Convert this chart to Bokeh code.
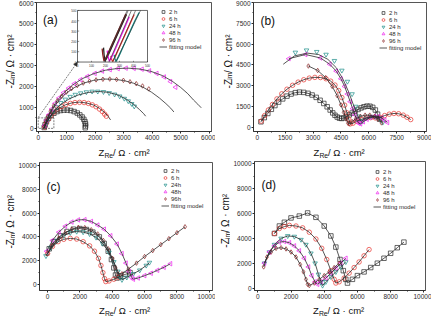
from math import pi
from bokeh.plotting import figure
from bokeh.layouts import row, column
from bokeh.models import Range1d, Label, Legend, LegendItem, Arrow, NormalHead, FixedTicker
from bokeh.core.properties import value
from bokeh.embed import file_html
from bokeh.resources import INLINE

FONT = "Liberation Sans"
INK = "#2b2b2b"

LABELS_ABD = ["2 h", "6 h", "24 h", "48 h", "96 h"]
LABELS_C = ["2 h", "6 h", "24h", "48h", "96h"]
COLORS = ["#262626", "#e8322c", "#1a8c88", "#ee1cee", "#8a1f1f"]
MARKERS = ["square", "circle", "inverted_triangle", "triangle", "diamond"]
MARKER_ANGLES = [0, 0, 0, pi / 2, 0]

# ---------------- panel (a) ----------------
A_2H_X = [210, 240, 290, 360, 450, 550, 660, 780, 900, 1020, 1140, 1260, 1370, 1460, 1540, 1600, 1640, 1660, 1660, 1650]
A_2H_Y = [40, 170, 330, 480, 610, 720, 800, 850, 870, 870, 850, 800, 730, 640, 540, 430, 320, 210, 110, 30]
A_2H_FX = [200, 260, 380, 540, 720, 900, 1080, 1260, 1420, 1540, 1620, 1660, 1670, 1660]
A_2H_FY = [0, 250, 500, 700, 820, 870, 870, 820, 700, 540, 370, 200, 90, 20]
A_6H_X = [230, 280, 350, 440, 550, 680, 820, 970, 1130, 1290, 1450, 1610, 1760, 1900, 2030, 2150, 2250, 2330, 2390]
A_6H_Y = [60, 240, 420, 600, 770, 920, 1040, 1130, 1190, 1230, 1240, 1230, 1190, 1120, 1030, 920, 800, 680, 580]
A_6H_FX = [200, 300, 480, 700, 950, 1200, 1450, 1700, 1950, 2150, 2320, 2450, 2540]
A_6H_FY = [0, 300, 680, 940, 1120, 1220, 1250, 1210, 1110, 950, 770, 580, 400]
A_24H_X = [250, 310, 400, 510, 640, 790, 950, 1120, 1300, 1490, 1690, 1890, 2090, 2290, 2490, 2680, 2860, 3020, 3160, 3280, 3370]
A_24H_Y = [100, 310, 560, 800, 1020, 1220, 1380, 1510, 1610, 1680, 1730, 1760, 1760, 1740, 1690, 1620, 1530, 1420, 1300, 1170, 1050]
A_24H_FX = [200, 320, 520, 780, 1080, 1400, 1750, 2100, 2450, 2800, 3100, 3350, 3550, 3700, 3770]
A_24H_FY = [0, 350, 780, 1130, 1400, 1590, 1710, 1760, 1720, 1590, 1380, 1140, 900, 700, 580]
A_48H_X = [230, 290, 370, 470, 590, 730, 890, 1070, 1270, 1490, 1730, 1990, 2250, 2520, 2800, 3080, 3360, 3640, 3900, 4160, 4420, 4640, 4820]
A_48H_Y = [140, 380, 650, 920, 1190, 1450, 1700, 1920, 2130, 2320, 2480, 2620, 2730, 2800, 2850, 2870, 2860, 2820, 2740, 2620, 2450, 2230, 1960]
A_48H_FX = [200, 300, 450, 650, 900, 1200, 1550, 1950, 2350, 2750, 3150, 3550, 3950, 4350, 4700, 5000, 5250, 5450, 5600, 5720]
A_48H_FY = [0, 420, 870, 1300, 1700, 2060, 2370, 2610, 2770, 2850, 2870, 2830, 2720, 2520, 2250, 1950, 1650, 1350, 1150, 980]
A_96H_X = [220, 270, 340, 430, 540, 670, 820, 990, 1170, 1370, 1580, 1800, 2030, 2270, 2510, 2750, 2990, 3220, 3440, 3660, 3880]
A_96H_Y = [100, 320, 570, 820, 1070, 1310, 1530, 1730, 1900, 2040, 2160, 2250, 2310, 2340, 2350, 2330, 2290, 2220, 2130, 2020, 1880]
A_96H_FX = [200, 300, 460, 680, 950, 1260, 1600, 1950, 2300, 2650, 3000, 3350, 3680, 3980, 4250, 4480, 4650, 4760]
A_96H_FY = [0, 380, 830, 1260, 1640, 1940, 2160, 2290, 2350, 2340, 2280, 2150, 1960, 1720, 1450, 1180, 960, 780]

# inset of (a): high-frequency detail, 0..500 on both axes
INSET_TICKS = [0, 100, 200, 300, 400, 500]
I_2H_X = [186, 190, 196, 210, 240, 280, 320, 350]
I_2H_Y = [140, 70, 10, 40, 130, 250, 370, 460]
I_6H_X = [238, 244, 252, 270, 300, 340, 380, 405]
I_6H_Y = [60, 25, 5, 55, 145, 265, 385, 460]
I_24H_X = [262, 268, 276, 295, 330, 370, 410, 440]
I_24H_Y = [70, 30, 5, 55, 160, 280, 400, 480]
I_48H_X = [212, 218, 228, 245, 275, 310, 345, 370]
I_48H_Y = [110, 55, 8, 50, 140, 250, 360, 440]
I_96H_X = [176, 181, 189, 205, 235, 275, 315, 345]
I_96H_Y = [130, 70, 10, 45, 135, 255, 375, 465]
I_FIT_X0 = [196, 250, 272, 225, 188]
I_FIT_X1 = [362, 415, 450, 385, 355]

# ---------------- panel (b) ----------------
B_2H_X = [200, 380, 570, 760, 950, 1150, 1370, 1600, 1820, 2050, 2270, 2500, 2730, 2950, 3170, 3380, 3580, 3760, 3920, 4060, 4180, 4300, 4420, 4540, 4660, 4800, 4950, 5100, 5260, 5420, 5580, 5740, 5900, 6060, 6210, 6350, 6470, 6570]
B_2H_Y = [400, 700, 1000, 1300, 1570, 1820, 2050, 2250, 2400, 2500, 2540, 2520, 2450, 2330, 2160, 1950, 1720, 1480, 1250, 1040, 870, 740, 660, 640, 680, 780, 900, 1030, 1160, 1290, 1400, 1480, 1530, 1520, 1440, 1250, 950, 600]
B_6H_X = [220, 400, 600, 820, 1060, 1320, 1600, 1900, 2200, 2500, 2800, 3100, 3400, 3700, 3950, 4180, 4380, 4550, 4700, 4820, 4920, 5000, 5150, 5350, 5600, 5850, 6100, 6350, 6600, 6850, 7100, 7350, 7600, 7850, 8050, 8250]
B_6H_Y = [450, 850, 1250, 1650, 2050, 2420, 2750, 3030, 3260, 3430, 3550, 3600, 3590, 3500, 3330, 3050, 2650, 2150, 1600, 1050, 600, 250, 300, 450, 580, 680, 700, 680, 720, 850, 950, 1000, 980, 880, 730, 560]
B_24H_X = [2050, 2650, 3200, 3700, 4150, 4550, 4850, 5100, 5300, 5450, 5550, 5650, 5850, 6100, 6350, 6550, 6750]
B_24H_Y = [5400, 5560, 5450, 5250, 4800, 4100, 3300, 2400, 1500, 800, 400, 450, 650, 780, 760, 600, 350]
B_48H_X = [1700, 2600, 3400, 3900, 4250, 4500, 4700, 4850, 5000, 5130, 5250, 5350, 5450, 5550, 5700, 5900, 6100, 6300, 6500, 6700, 6850, 7000]
B_48H_Y = [4950, 5250, 5000, 4550, 4050, 3500, 2950, 2400, 1850, 1350, 900, 550, 300, 250, 400, 580, 720, 790, 780, 680, 520, 350]
B_96H_X = [2750, 3250, 3680, 4030, 4300, 4500, 4650, 4780, 4880, 4950, 5100, 5300, 5550, 5800, 6050, 6300, 6500, 6680]
B_96H_Y = [4420, 4100, 3580, 2950, 2280, 1620, 1080, 600, 300, 250, 420, 620, 790, 880, 880, 780, 580, 320]
B_24H_FX = [1400, 2000, 2700, 3300, 3800, 4250, 4600, 4900, 5150, 5350, 5500, 5600, 5850, 6100, 6350, 6550, 6750]
B_24H_FY = [4550, 5150, 5350, 5250, 4900, 4300, 3500, 2600, 1700, 1000, 550, 450, 650, 780, 760, 600, 350]

# ---------------- panel (c) ----------------
C_2H_X = [100, 400, 800, 1200, 1600, 2000, 2400, 2800, 3200, 3500, 3750, 3950, 4100, 4200, 4300, 4500, 4800, 5100]
C_2H_Y = [3000, 3600, 4100, 4450, 4650, 4700, 4620, 4400, 4000, 3450, 2800, 2100, 1400, 800, 550, 700, 850, 1000]
C_6H_X = [0, 300, 650, 1000, 1400, 1800, 2200, 2600, 2900, 3150, 3300, 3420, 3520, 3600, 3800, 4100, 4400]
C_6H_Y = [2600, 3200, 3600, 3800, 3880, 3820, 3600, 3250, 2800, 2200, 1600, 1000, 500, 250, 300, 450, 600]
C_24H_X = [-100, 200, 600, 1000, 1400, 1800, 2200, 2600, 3000, 3400, 3800, 4100, 4350, 4500, 4600, 4900, 5300, 5700, 6100, 6300]
C_24H_Y = [2400, 3100, 3700, 4100, 4350, 4450, 4400, 4250, 3950, 3450, 2700, 1900, 1100, 600, 400, 600, 900, 1200, 1600, 1850]
C_48H_X = [-50, 300, 700, 1100, 1500, 1900, 2300, 2700, 3100, 3500, 3900, 4300, 4600, 4850, 5050, 5200, 5300, 5600, 6000, 6400, 6800, 7200, 7600]
C_48H_Y = [2800, 3700, 4400, 4900, 5250, 5430, 5450, 5300, 5000, 4650, 4100, 3400, 2600, 1800, 1100, 600, 450, 550, 750, 950, 1200, 1450, 1750]
C_96H_X = [0, 300, 700, 1100, 1500, 1900, 2300, 2700, 3100, 3450, 3750, 4000, 4200, 4350, 4600, 5000, 5500, 6000, 6500, 7000, 7500, 8000, 8500]
C_96H_Y = [2600, 3300, 3900, 4350, 4650, 4800, 4780, 4600, 4250, 3700, 3000, 2200, 1400, 900, 900, 1300, 1800, 2350, 2850, 3350, 3850, 4350, 4850]

# ---------------- panel (d) ----------------
D_2H_X = [1000, 1300, 1600, 2000, 2500, 3000, 3500, 4000, 4400, 4700, 4950, 5150, 5300, 5400, 5700, 6000, 6400, 6800, 7200, 7600, 8000, 8400, 8800]
D_2H_Y = [4400, 5000, 5300, 5650, 5800, 6050, 5700, 5000, 4200, 3300, 2300, 1400, 700, 400, 700, 1000, 1300, 1650, 2000, 2400, 2800, 3250, 3700]
D_6H_X = [1000, 1300, 1600, 1900, 2300, 2700, 3100, 3500, 3850, 4150, 4400, 4600, 4700, 4900, 5200, 5500, 5800, 6100, 6400, 6700]
D_6H_Y = [4400, 4800, 4950, 5050, 5000, 4850, 4500, 3950, 3200, 2300, 1400, 700, 400, 500, 800, 1200, 1650, 2100, 2600, 3100]
D_24H_X = [400, 700, 1000, 1400, 1800, 2200, 2600, 2900, 3200, 3450, 3650, 3800, 3900, 4100, 4400, 4700, 5000, 5300]
D_24H_Y = [2000, 2900, 3500, 4000, 4200, 4150, 3900, 3500, 2800, 2000, 1100, 500, 200, 500, 900, 1300, 1700, 2100]
D_48H_X = [400, 700, 1000, 1300, 1600, 1900, 2200, 2500, 2800, 3050, 3250, 3450, 3600, 3800, 4100, 4400, 4700, 5000, 5300]
D_48H_Y = [2000, 2900, 3400, 3700, 3750, 3650, 3400, 3000, 2400, 1700, 1000, 500, 300, 500, 800, 1200, 1600, 2000, 2400]
D_96H_X = [350, 550, 800, 1100, 1400, 1700, 2000, 2300, 2550, 2750, 2900, 3000, 3100, 3400, 3700, 4000, 4300, 4600, 4900]
D_96H_Y = [1700, 2500, 2900, 3200, 3250, 3150, 2900, 2500, 1900, 1300, 700, 300, 200, 400, 700, 1000, 1300, 1650, 2000]

TICKS_A = [0, 1000, 2000, 3000, 4000, 5000, 6000]
TICKS_B = [0, 1500, 3000, 4500, 6000, 7500, 9000]
TICKS_CD = [0, 2000, 4000, 6000, 8000, 10000]

# Arial / Liberation Sans advance widths (per 1000 em) for title layout
ADV = {"-": 333, "Z": 611, "R": 722, "e": 556, "i": 222, "m": 833, "/": 278, " ": 278,
       "\u03a9": 768, "\u00b7": 278, "c": 500, "\u00b2": 333}


def tw(s, size):
    return sum(ADV.get(ch, 556) for ch in s) * size / 1000.0


def strip(w, h):
    f = figure(width=w, height=h, x_range=Range1d(0, w), y_range=Range1d(0, h),
               output_backend="svg", toolbar_location=None, min_border=0,
               x_axis_type=None, y_axis_type=None, outline_line_color=None,
               background_fill_color="white", border_fill_color="white")
    f.grid.visible = False
    return f


def panel(letter, pw, ph, ylab_w, xlab_h, frame_l, r, t, b, xr, yr, ticks, series, fits, labels,
          legend_loc, letter_pos, ylab_base):
    w = pw - ylab_w
    h = ph - xlab_h
    l = frame_l - ylab_w
    fw, fh = w - l - r, h - t - b
    p = figure(width=w, height=h, x_range=Range1d(*xr), y_range=Range1d(*yr),
               output_backend="svg", toolbar_location=None,
               min_border_left=l, min_border_right=r, min_border_top=t, min_border_bottom=b,
               background_fill_color="white", border_fill_color="white")
    p.outline_line_color = INK
    p.outline_line_width = 0.8
    p.grid.visible = False
    step = ticks[1] - ticks[0]
    minor = [v + step / 2 for v in ticks[:-1]]
    for ax in (p.xaxis[0], p.yaxis[0]):
        ax.ticker = FixedTicker(ticks=ticks, minor_ticks=minor)
        ax.major_label_text_font = FONT
        ax.major_label_text_font_size = "6.5px"
        ax.major_label_text_color = INK
        ax.axis_line_color = INK
        ax.axis_line_width = 0.8
        ax.major_tick_line_color = INK
        ax.minor_tick_line_color = INK
        ax.major_tick_in = 0
        ax.major_tick_out = 2
        ax.minor_tick_in = 0
        ax.minor_tick_out = 1
    p.xaxis[0].major_label_standoff = 1
    p.yaxis[0].major_label_standoff = 1

    def X(px):
        return xr[0] + px / fw * (xr[1] - xr[0])

    def Y(py):
        return yr[1] - py / fh * (yr[1] - yr[0])

    items = []
    for (xs, ys), lab, col, mk, ang in zip(series, labels, COLORS, MARKERS, MARKER_ANGLES):
        sr = p.scatter(xs, ys, marker=mk, angle=ang, size=4.5, fill_color=None,
                       line_color=col, line_width=0.7)
        items.append(LegendItem(label=lab, renderers=[sr]))
    fit_r = None
    for fx, fy in fits:
        fit_r = p.line(fx, fy, line_color=INK, line_width=0.8)
    items.append(LegendItem(label="fitting model", renderers=[fit_r]))

    leg = Legend(items=items, location=legend_loc, label_text_font=FONT,
                 label_text_font_size="6px", label_text_color=INK,
                 glyph_width=8, glyph_height=7, label_height=7, spacing=0,
                 padding=0, margin=0, label_standoff=2,
                 border_line_alpha=0, background_fill_alpha=0)
    p.add_layout(leg)

    p.add_layout(Label(x=X(letter_pos[0]), y=Y(letter_pos[1]), text=letter, text_font=FONT,
                       text_font_size="12px", text_color="#111", text_baseline="alphabetic"))

    # y axis title strip: -Z_im / Ω · cm²
    ys_ = strip(ylab_w, h)
    yp = [("-Z", 10, 0), ("im", 7, 1.8), ("/ \u03a9 \u00b7 cm\u00b2", 10, 0)]
    total = sum(tw(s, f) for s, f, _ in yp)
    y0 = (h - t - fh / 2) - total / 2
    for s, f, dx in yp:
        ys_.add_layout(Label(x=ylab_base + dx, y=y0, text=s, angle=pi / 2,
                             text_font=FONT, text_font_size=f"{f}px", text_color="#111",
                             text_baseline="alphabetic", text_align="left"))
        y0 += tw(s, f)

    # x axis title strip: Z_Re / Ω · cm²
    xs_ = strip(pw, xlab_h)
    xp = [("Z", 9.5, 0), ("Re", 6.8, -2.5), ("/ \u03a9 \u00b7 cm\u00b2", 9.5, 0)]
    total = sum(tw(s, f) for s, f, _ in xp)
    x0 = frame_l + fw / 2 - total / 2
    base = 6
    for s, f, dy in xp:
        xs_.add_layout(Label(x=x0, y=base + dy, text=s,
                             text_font=FONT, text_font_size=f"{f}px", text_color="#111",
                             text_baseline="alphabetic", text_align="left"))
        x0 += tw(s, f)
    return p, X, Y, column(row(ys_, p, spacing=0), xs_, spacing=0)


# ---------------- build panels ----------------
pa, XA, YA, la = panel("(a)", 215, 158, 15, 16, 36, 4, 2, 10, (-60, 6080), (-150, 6000), TICKS_A,
                       [(A_2H_X, A_2H_Y), (A_6H_X, A_6H_Y), (A_24H_X, A_24H_Y), (A_48H_X, A_48H_Y), (A_96H_X, A_96H_Y)],
                       [(A_2H_FX, A_2H_FY), (A_6H_FX, A_6H_FY), (A_24H_FX, A_24H_FY), (A_48H_FX, A_48H_FY), (A_96H_FX, A_96H_FY)],
                       LABELS_ABD, (123, 81), (6.5, 18), 10.3)

# dashed zoom box and arrow towards inset
pa.quad(left=0, right=550, bottom=0, top=500, fill_alpha=0, line_color=INK, line_width=0.6, line_dash="2 1")
ix0, ix1, iy0, iy1 = XA(41), XA(111), YA(60), YA(8)
pa.add_layout(Arrow(end=NormalHead(size=4, fill_color=INK, line_color=INK, line_width=0.5),
                    x_start=0, y_start=520, x_end=ix0, y_end=iy0,
                    line_color=INK, line_width=0.6, line_dash="2 1"))
ins = pa.subplot(x_source=Range1d(0, 500), y_source=Range1d(0, 500),
                 x_target=Range1d(ix0, ix1), y_target=Range1d(iy0, iy1))
ins.quad(left=0, right=500, bottom=0, top=500, fill_color="white", line_color=INK, line_width=0.7)
ins.segment(x0=INSET_TICKS, y0=[0] * 6, x1=INSET_TICKS, y1=[12] * 6, line_color=INK, line_width=0.5)
ins.segment(x0=[0] * 6, y0=INSET_TICKS, x1=[12] * 6, y1=INSET_TICKS, line_color=INK, line_width=0.5)
ins.text(x=INSET_TICKS, y=[-12] * 6, text=[str(v) for v in INSET_TICKS], text_font=value(FONT),
         text_font_size="3px", text_align="center", text_baseline="top", text_color=INK)
ins.text(x=[-8] * 6, y=INSET_TICKS, text=[str(v) for v in INSET_TICKS], text_font=value(FONT),
         text_font_size="3px", text_align="right", text_baseline="middle", text_color=INK)
for xs, ys, col in zip([I_2H_X, I_6H_X, I_24H_X, I_48H_X, I_96H_X],
                       [I_2H_Y, I_6H_Y, I_24H_Y, I_48H_Y, I_96H_Y], COLORS):
    ins.line(xs, ys, line_color=col, line_width=1.3)
for x0, x1 in zip(I_FIT_X0, I_FIT_X1):
    ins.line([x0, x1], [0, 500], line_color=INK, line_width=0.6)

pb, XB, YB, lb = panel("(b)", 216, 158, 18, 16, 36, 5, 2, 10, (-200, 9100), (-300, 9000), TICKS_B,
                       [(B_2H_X, B_2H_Y), (B_6H_X, B_6H_Y), (B_24H_X, B_24H_Y), (B_48H_X, B_48H_Y), (B_96H_X, B_96H_Y)],
                       [(B_2H_X, B_2H_Y), (B_6H_X, B_6H_Y), (B_24H_FX, B_24H_FY), (B_48H_X, B_48H_Y), (B_96H_X, B_96H_Y)],
                       LABELS_ABD, (126, 80), (7, 18.5), 12.5)

pc, XC, YC, lc = panel("(c)", 215, 158, 15, 15, 36, 3, 4, 10, (-500, 10200), (-500, 10250), TICKS_CD,
                       [(C_2H_X, C_2H_Y), (C_6H_X, C_6H_Y), (C_24H_X, C_24H_Y), (C_48H_X, C_48H_Y), (C_96H_X, C_96H_Y)],
                       [(C_2H_X, C_2H_Y), (C_6H_X, C_6H_Y), (C_24H_X, C_24H_Y), (C_48H_X, C_48H_Y), (C_96H_X, C_96H_Y)],
                       LABELS_C, (122, 81), (7, 25), 10.3)

pd_, XD, YD, ld = panel("(d)", 216, 158, 15, 15, 36, 6, 3, 10, (-200, 10100), (-200, 10200), TICKS_CD,
                        [(D_2H_X, D_2H_Y), (D_6H_X, D_6H_Y), (D_24H_X, D_24H_Y), (D_48H_X, D_48H_Y), (D_96H_X, D_96H_Y)],
                        [(D_2H_X, D_2H_Y), (D_6H_X, D_6H_Y), (D_24H_X, D_24H_Y), (D_48H_X, D_48H_Y), (D_96H_X, D_96H_Y)],
                        LABELS_ABD, (119, 80), (7, 24), 10.3)

layout = column(row(la, lb, spacing=0), row(lc, ld, spacing=0), spacing=0)
open("out.html", "w").write(file_html(layout, INLINE))
